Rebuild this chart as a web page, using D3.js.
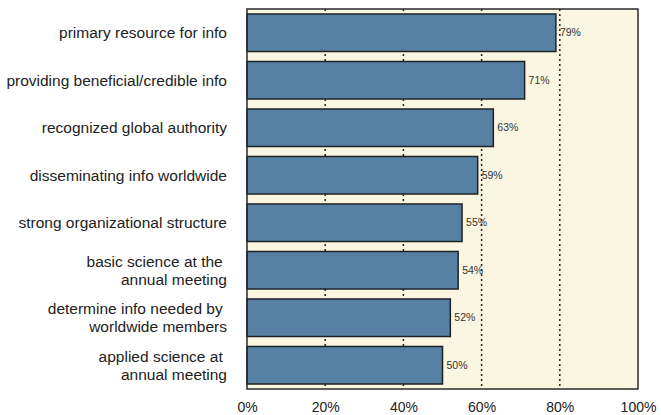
<!DOCTYPE html>
<html>
<head>
<meta charset="utf-8">
<script src="https://cdn.jsdelivr.net/npm/d3@7"></script>
<style>
  html, body { margin: 0; padding: 0; background: #ffffff; }
  svg { display: block; font-family: "Liberation Sans", Arial, Helvetica, sans-serif; }
</style>
</head>
<body>
<script>
// Survey results: share of respondents agreeing with each statement
const categories = [
  ["primary resource for info"],
  ["providing beneficial/credible info"],
  ["recognized global authority"],
  ["disseminating info worldwide"],
  ["strong organizational structure"],
  ["basic science at the ", "annual meeting"],
  ["determine info needed by ", "worldwide members"],
  ["applied science at ", "annual meeting"]
];
const values = [79, 71, 63, 59, 55, 54, 52, 50];
const tickValues = [0, 20, 40, 60, 80, 100];
const tickLabels = ["0%", "20%", "40%", "60%", "80%", "100%"];

const width = 661, height = 415;
const margin = { top: 9, right: 23, bottom: 26, left: 247 };

const svg = d3.select("body").append("svg")
  .attr("width", width)
  .attr("height", height);

const x = d3.scaleLinear().domain([0, 100]).range([margin.left, width - margin.right]);
const y = d3.scaleBand()
  .domain(d3.range(values.length))
  .range([margin.top, height - margin.bottom])
  .paddingInner(0.21)
  .paddingOuter(0.105);

// plot background
svg.append("rect")
  .attr("x", x(0)).attr("y", margin.top)
  .attr("width", x(100) - x(0))
  .attr("height", height - margin.bottom - margin.top)
  .attr("fill", "#faf6e1");

// dotted gridlines (behind the bars)
svg.append("g")
  .selectAll("line")
  .data(tickValues.filter(d => d > 0 && d < 100))
  .join("line")
  .attr("x1", d => x(d)).attr("x2", d => x(d))
  .attr("y1", margin.top).attr("y2", height - margin.bottom)
  .attr("stroke", "#222")
  .attr("stroke-width", 1.5)
  .attr("stroke-dasharray", "2,3");

// bars
svg.append("g")
  .selectAll("rect")
  .data(values)
  .join("rect")
  .attr("x", x(0))
  .attr("y", (d, i) => y(i))
  .attr("width", d => x(d) - x(0))
  .attr("height", y.bandwidth())
  .attr("fill", "#5781a4")
  .attr("stroke", "#1e2225")
  .attr("stroke-width", 1.5);

// value labels
svg.append("g")
  .selectAll("text")
  .data(values)
  .join("text")
  .attr("x", d => x(d) + 4)
  .attr("y", (d, i) => y(i) + y.bandwidth() / 2)
  .attr("dy", "0.35em")
  .attr("font-size", 10.5)
  .attr("fill", "#333")
  .text(d => d + "%");

// frame
svg.append("rect")
  .attr("x", x(0)).attr("y", margin.top)
  .attr("width", x(100) - x(0))
  .attr("height", height - margin.bottom - margin.top)
  .attr("fill", "none")
  .attr("stroke", "#2a2a2a")
  .attr("stroke-width", 1.5);

// category labels
const lineH = 18;
svg.append("g")
  .selectAll("text")
  .data(categories)
  .join("text")
  .attr("text-anchor", "end")
  .attr("font-size", 15.5)
  .attr("fill", "#222")
  .style("white-space", "pre")
  .each(function (lines, i) {
    const cy = y(i) + y.bandwidth() / 2;
    const t = d3.select(this);
    lines.forEach((ln, k) => {
      t.append("tspan")
        .attr("x", x(0) - 20)
        .attr("y", cy + (k - (lines.length - 1) / 2) * lineH)
        .attr("dy", "0.35em")
        .text(ln);
    });
  });

// x axis tick labels
const xAxis = d3.axisBottom(x)
  .tickValues(tickValues)
  .tickFormat((d, i) => tickLabels[i])
  .tickSize(0)
  .tickPadding(0);
const gx = svg.append("g")
  .attr("transform", `translate(0,${height - margin.bottom})`)
  .call(xAxis);
gx.select(".domain").remove();
gx.selectAll("text")
  .attr("font-size", 14)
  .attr("font-family", "Liberation Sans, Arial, sans-serif")
  .attr("fill", "#222")
  .attr("dy", null)
  .attr("y", 23);
</script>
</body>
</html>
